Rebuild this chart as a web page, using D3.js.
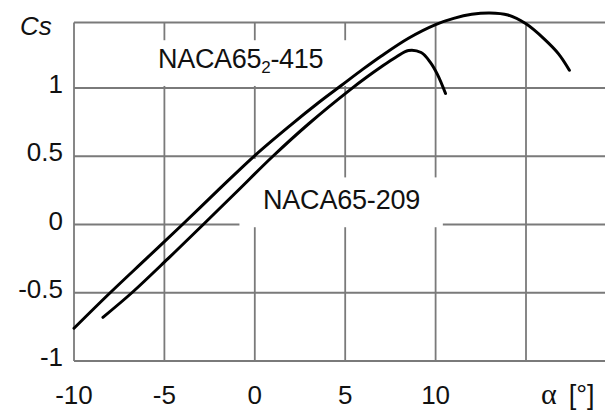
<!DOCTYPE html>
<html>
<head>
  <meta charset="UTF-8">
  <title>Cs - alpha</title>
  <script src="https://d3js.org/d3.v7.min.js"></script>
  <style>
    body { margin: 0; background: #fff; }
    svg { display: block; font-family: "Liberation Sans", Arial, sans-serif; }
  </style>
</head>
<body>
  <div id="chart"></div>

  <script>
    // profile NACA65_2-415 (upper curve)
    const alpha415 = [-10, -8, -6, -4, -2, 0, 2, 3.5, 4.8, 6, 7, 8.5, 10, 11, 12, 13, 14, 15, 16, 16.8, 17.4];
    const cs415    = [-0.76, -0.5, -0.25, 0, 0.255, 0.505, 0.73, 0.89, 1.02, 1.14, 1.235, 1.365, 1.465, 1.51, 1.54, 1.55, 1.535, 1.47, 1.36, 1.25, 1.13];

    // profile NACA65-209 (lower curve)
    const alpha209 = [-8.4, -6.8, -4.8, -2.85, -1, 1.0, 3, 5.3, 6.2, 7, 7.8, 8.5, 9.2, 9.7, 10.1, 10.55];
    const cs209    = [-0.68, -0.5, -0.25, 0, 0.24, 0.5, 0.74, 0.99, 1.08, 1.155, 1.225, 1.275, 1.26, 1.19, 1.1, 0.96];

    const xTicks = [-10, -5, 0, 5, 10, 15];
    const xTickLabels = ["-10", "-5", "0", "5", "10", ""];
    const yTicks = [-1, -0.5, 0, 0.5, 1];
    const yTickLabels = ["-1", "-0.5", "0", "0.5", "1"];

    const W = 605, H = 412;
    const x = d3.scaleLinear().domain([-10, 15]).range([74, 526]);
    const y = d3.scaleLinear().domain([-1, 1]).range([361, 88]);
    const xMax = x.invert(W), yTop = 1.48;

    const svg = d3.select("#chart").append("svg")
      .attr("width", W).attr("height", H);

    const grid = svg.append("g")
      .attr("stroke", "#7a7a7a").attr("stroke-width", 1.8);

    // vertical grid
    grid.selectAll("line.v").data(xTicks).enter().append("line")
      .attr("x1", d => x(d)).attr("x2", d => x(d))
      .attr("y1", y(yTop)).attr("y2", y(-1));
    // horizontal grid + top border
    grid.selectAll("line.h").data(yTicks.concat([yTop])).enter().append("line")
      .attr("x1", x(-10)).attr("x2", x(xMax))
      .attr("y1", d => y(d)).attr("y2", d => y(d));

    // white boxes behind labels
    const boxes = [
      { x0: -5.8, x1: 5.4, y0: 1.35, y1: 1.015 },
      { x0: -0.85, x1: 10.4, y0: 0.345, y1: -0.02 },
      { x0: -0.85, x1: 2.5, y0: 0.48, y1: 0.3 }
    ];
    svg.selectAll("rect.box").data(boxes).enter().append("rect")
      .attr("x", d => x(d.x0)).attr("y", d => y(d.y0))
      .attr("width", d => x(d.x1) - x(d.x0))
      .attr("height", d => y(d.y1) - y(d.y0))
      .attr("fill", "#fff");

    // curves
    const line = d3.line()
      .x(d => x(d[0])).y(d => y(d[1]))
      .curve(d3.curveCatmullRom.alpha(0.5));

    svg.append("path")
      .datum(d3.zip(alpha415, cs415))
      .attr("fill", "none").attr("stroke", "#000")
      .attr("stroke-width", 3).attr("stroke-linecap", "round")
      .attr("d", line);
    svg.append("path")
      .datum(d3.zip(alpha209, cs209))
      .attr("fill", "none").attr("stroke", "#000")
      .attr("stroke-width", 3).attr("stroke-linecap", "round")
      .attr("d", line);

    // tick labels
    svg.selectAll("text.yl").data(yTicks).enter().append("text")
      .attr("x", 63).attr("y", d => y(d) + 5)
      .attr("text-anchor", "end")
      .attr("font-size", 26).attr("fill", "#111")
      .text((d, i) => yTickLabels[i]);

    svg.selectAll("text.xl").data(xTicks).enter().append("text")
      .attr("x", d => x(d)).attr("y", 404)
      .attr("text-anchor", "middle")
      .attr("font-size", 26).attr("fill", "#111")
      .text((d, i) => xTickLabels[i]);

    // axis titles
    svg.append("text")
      .attr("x", 20).attr("y", 35)
      .attr("font-size", 26).attr("font-style", "italic").attr("fill", "#111")
      .text("Cs");

    const xt = svg.append("text")
      .attr("x", 541).attr("y", 404)
      .attr("font-size", 30).attr("fill", "#111");
    xt.append("tspan").attr("font-family", "'Liberation Serif', serif").text("α");
    xt.append("tspan").attr("dx", 12).attr("font-size", 27).text("[°]");

    // profile labels
    const lab1 = svg.append("text")
      .attr("x", 158).attr("y", 68)
      .attr("font-size", 27).attr("letter-spacing", -0.3).attr("fill", "#111");
    lab1.append("tspan").text("NACA65");
    lab1.append("tspan").attr("font-size", 17).attr("dy", 5).text("2");
    lab1.append("tspan").attr("dy", -5).text("-415");

    svg.append("text")
      .attr("x", 263).attr("y", 209)
      .attr("font-size", 27).attr("letter-spacing", -0.2).attr("fill", "#111")
      .text("NACA65-209");
  </script>
</body>
</html>
